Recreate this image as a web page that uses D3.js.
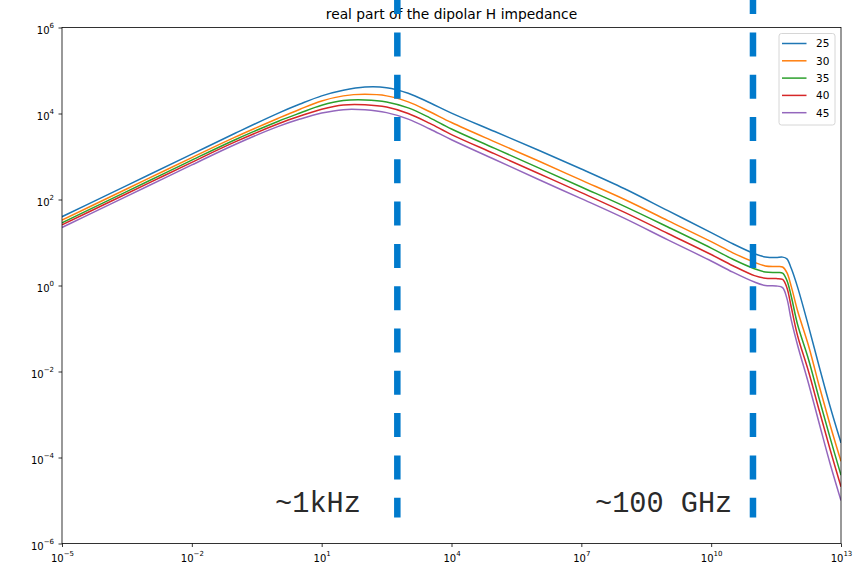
<!DOCTYPE html>
<html>
<head>
<meta charset="utf-8">
<script src="https://cdn.jsdelivr.net/npm/d3@7/dist/d3.min.js"></script>
<style>
  body { margin: 0; background: #fff; }
</style>
</head>
<body>
<svg id="chart" width="859" height="563"></svg>
<script>
// Frequency samples (log10 of frequency)
const logFreq = [-5, -4, -3, -2, -1, 0, 0.5, 1, 1.5, 2, 2.5, 3, 3.5, 4, 5, 6, 7, 8, 9, 10,
                 10.5, 11, 11.25, 11.5, 11.65, 11.75, 11.85, 12, 12.25, 12.5, 12.75, 13];

// log10 of Re(Z) for each parameter value
const logZ25 = [1.60, 2.085, 2.57, 3.055, 3.54, 4.01, 4.22, 4.41, 4.54, 4.615, 4.60, 4.47, 4.25, 4.01, 3.58, 3.15, 2.71, 2.25, 1.74, 1.23,
                0.97, 0.74, 0.665, 0.65, 0.66, 0.62, 0.40, -0.05, -0.95, -1.90, -2.82, -3.66];
const logZ30 = [1.52, 2.005, 2.49, 2.975, 3.45, 3.89, 4.10, 4.29, 4.41, 4.445, 4.41, 4.27, 4.04, 3.79, 3.34, 2.90, 2.45, 2.00, 1.51, 1.02,
                0.76, 0.54, 0.455, 0.44, 0.43, 0.30, -0.02, -0.60, -1.40, -2.35, -3.25, -4.09];
const logZ35 = [1.46, 1.945, 2.43, 2.915, 3.39, 3.82, 4.01, 4.19, 4.30, 4.315, 4.27, 4.13, 3.90, 3.64, 3.19, 2.74, 2.29, 1.84, 1.36, 0.87,
                0.61, 0.39, 0.315, 0.30, 0.29, 0.12, -0.25, -0.92, -1.72, -2.65, -3.55, -4.41];
const logZ40 = [1.41, 1.895, 2.38, 2.865, 3.34, 3.76, 3.94, 4.10, 4.20, 4.205, 4.15, 4.00, 3.77, 3.51, 3.06, 2.61, 2.16, 1.70, 1.21, 0.72,
                0.46, 0.23, 0.17, 0.16, 0.14, -0.05, -0.50, -1.18, -2.00, -2.92, -3.82, -4.68];
const logZ45 = [1.35, 1.835, 2.32, 2.805, 3.28, 3.70, 3.87, 4.01, 4.09, 4.085, 4.02, 3.87, 3.64, 3.39, 2.93, 2.47, 2.02, 1.56, 1.06, 0.57,
                0.31, 0.08, 0.0, -0.01, -0.05, -0.30, -0.80, -1.40, -2.28, -3.22, -4.15, -5.00];

const seriesLabels = ["25", "30", "35", "40", "45"];
const seriesLogZ = [logZ25, logZ30, logZ35, logZ40, logZ45];
const seriesColors = ["#1f77b4", "#ff7f0e", "#2ca02c", "#d62728", "#9467bd"];

// Axis ticks (exponents of ten)
const xTickExp = [-5, -2, 1, 4, 7, 10, 13];
const yTickExp = [-6, -4, -2, 0, 2, 4, 6];

// Characteristic frequencies marked with vertical dashed lines
const markerFreqs = [560, 9.25e10];
const markerLabels = ["~1kHz", "~100 GHz"];
const markerLabelFreqs = [0.84, 2.07e7];

const chartTitle = "real part of the dipolar H impedance";

const sansFont = "'DejaVu Sans', sans-serif";
const monoFont = "'Courier New', 'Liberation Mono', monospace";

const svg = d3.select("#chart");
const plotLeft = 62, plotRight = 841, plotTop = 27.5, plotBottom = 543.5;

const x = d3.scaleLog().domain([1e-5, 1e13]).range([plotLeft, plotRight]);
const y = d3.scaleLog().domain([1e-6, 1e6]).range([plotBottom, plotTop]);

// curves
const line = d3.line()
  .x(d => x(d[0]))
  .y(d => y(d[1]))
  .curve(d3.curveCatmullRom.alpha(0.5));

svg.append("clipPath").attr("id", "plotclip")
  .append("rect").attr("x", plotLeft).attr("y", plotTop)
  .attr("width", plotRight - plotLeft).attr("height", plotBottom - plotTop);

const curves = svg.append("g").attr("clip-path", "url(#plotclip)");
seriesLogZ.forEach((vals, i) => {
  const pts = logFreq.map((lf, j) => [Math.pow(10, lf), Math.pow(10, vals[j])]);
  curves.append("path")
    .datum(pts)
    .attr("d", line)
    .attr("fill", "none")
    .attr("stroke", seriesColors[i])
    .attr("stroke-width", 1.5);
});

// axes
function expLabel(sel, e) {
  sel.append("tspan").text("10");
  sel.append("tspan").attr("dy", -6).style("font-size", "7px")
    .text(e < 0 ? "\u2212" + Math.abs(e) : String(e));
}

const xAxis = d3.axisBottom(x)
  .tickValues(xTickExp.map(e => Math.pow(10, e)))
  .tickSize(3.5).tickPadding(3.5)
  .tickFormat("");
const gx = svg.append("g").attr("transform", `translate(0,${plotBottom})`).call(xAxis);
gx.select(".domain").remove();
gx.selectAll(".tick text").remove();
gx.selectAll(".tick line").attr("stroke", "#000").attr("stroke-width", 0.8);
gx.selectAll(".tick").each(function(d, i) {
  const t = d3.select(this).append("text")
    .attr("y", 18).attr("fill", "#000")
    .style("font-family", sansFont).style("font-size", "10px")
    .attr("text-anchor", "middle");
  expLabel(t, xTickExp[i]);
});

const yAxis = d3.axisLeft(y)
  .tickValues(yTickExp.map(e => Math.pow(10, e)))
  .tickSize(3.5).tickPadding(3.5)
  .tickFormat("");
const gy = svg.append("g").attr("transform", `translate(${plotLeft},0)`).call(yAxis);
gy.select(".domain").remove();
gy.selectAll(".tick text").remove();
gy.selectAll(".tick line").attr("stroke", "#000").attr("stroke-width", 0.8);
gy.selectAll(".tick").each(function(d, i) {
  const t = d3.select(this).append("text")
    .attr("x", -8).attr("y", 5.5).attr("fill", "#000")
    .style("font-family", sansFont).style("font-size", "10px")
    .attr("text-anchor", "end");
  expLabel(t, yTickExp[i]);
});

// frame
svg.append("rect")
  .attr("x", plotLeft).attr("y", plotTop)
  .attr("width", plotRight - plotLeft).attr("height", plotBottom - plotTop)
  .attr("fill", "none").attr("stroke", "#000").attr("stroke-width", 0.8);

// title
svg.append("text")
  .attr("x", (plotLeft + plotRight) / 2).attr("y", 18.8)
  .attr("text-anchor", "middle").attr("fill", "#000")
  .style("font-family", sansFont).style("font-size", "13.8px")
  .text(chartTitle);

// legend
const legend = svg.append("g");
legend.append("rect")
  .attr("x", 779).attr("y", 33.5).attr("width", 56).attr("height", 91.5)
  .attr("rx", 2.5).attr("fill", "#fff").attr("fill-opacity", 0.8)
  .attr("stroke", "#cccccc").attr("stroke-width", 0.8);
seriesLabels.forEach((lab, i) => {
  const cy = 43.5 + i * 17.3;
  legend.append("line")
    .attr("x1", 782).attr("x2", 806.5).attr("y1", cy).attr("y2", cy)
    .attr("stroke", seriesColors[i]).attr("stroke-width", 1.5);
  legend.append("text")
    .attr("x", 816).attr("y", cy + 3.8).attr("fill", "#000")
    .style("font-family", sansFont).style("font-size", "10.5px")
    .text(lab);
});

// dashed frequency markers (drawn over the curves, not clipped)
markerFreqs.forEach(f => {
  svg.append("line")
    .attr("x1", x(f)).attr("x2", x(f))
    .attr("y1", y(7.4e6)).attr("y2", y(4e-6))
    .attr("stroke", "#007acc").attr("stroke-width", 6.5)
    .attr("stroke-dasharray", "24,18.3");
});

markerLabels.forEach((lab, i) => {
  svg.append("text")
    .attr("x", x(markerLabelFreqs[i])).attr("y", y(5.4e-6))
    .attr("fill", "#2a2a2a")
    .style("font-family", monoFont).style("font-size", "28.6px")
    .text(lab);
});
</script>
</body>
</html>
